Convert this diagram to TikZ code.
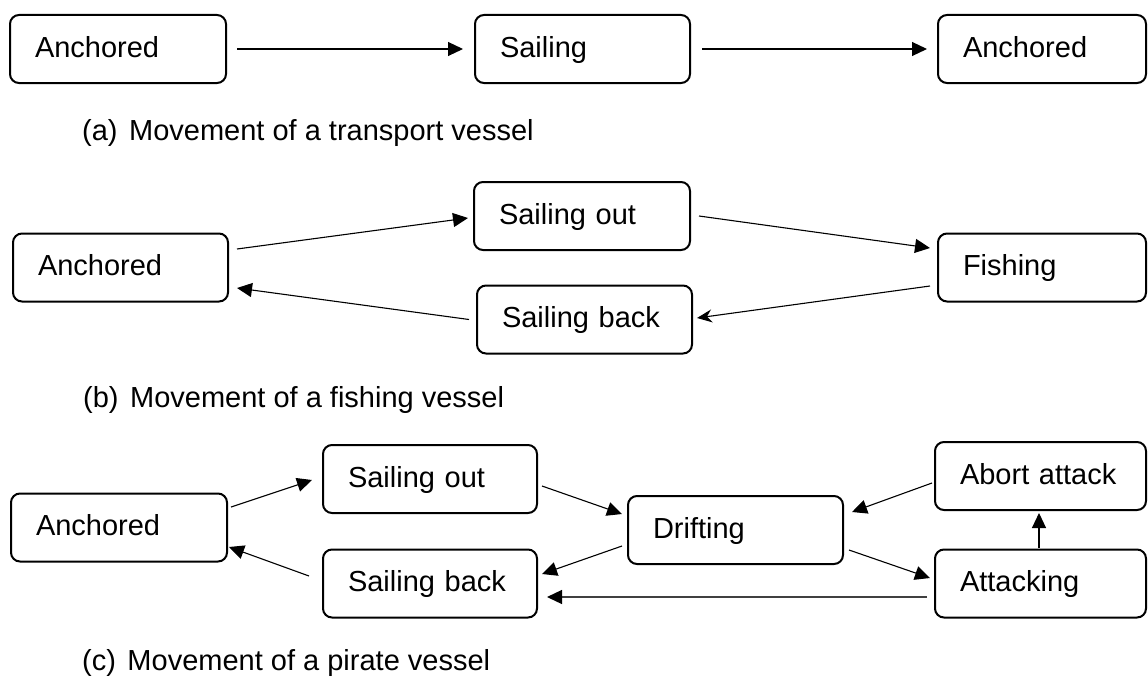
\documentclass[tikz,border=0pt]{standalone}
\usepackage{fontspec}
\setmainfont{Liberation Sans}
\usetikzlibrary{arrows.meta,calc}

\begin{document}
\begin{tikzpicture}[x=1pt,y=-1pt,
  state/.style={draw, line width=2pt, rounded corners=9pt, minimum height=68pt,
    inner xsep=25pt, inner ysep=0pt, outer sep=0pt, align=left,
    text height=16.6pt, text depth=0pt, font=\fontsize{29}{34}\selectfont},
  edge/.style={line width=1.1pt, -{Triangle[length=15pt,width=14pt]}},
  edgeback/.style={line width=1.1pt, -{Stealth[length=15pt,width=13pt,inset=5pt]}},
  edgelong/.style={line width=1.3pt, black!75, -{Triangle[length=15pt,width=14pt,color=black,fill=black]}},
  caption/.style={anchor=base west, inner sep=0pt, font=\fontsize{29}{34}\selectfont}]

\useasboundingbox (0,0) rectangle (1148,677);

% (a) transport vessel
\node[state, text width=166pt] (a1) at (118,49)   {Anchored};
\node[state, text width=165pt] (a2) at (582.5,49) {Sailing};
\node[state, text width=158pt] (a3) at (1042,49)  {Anchored};
\draw[edge] ($(a1.east)+(11,0)$) -- ($(a2.west)+(-12,0)$);
\draw[edge] ($(a2.east)+(12,0)$) -- ($(a3.west)+(-11,0)$);
\node[caption] (capa) at (82,140) {(a)\hspace{11.5pt}Movement of a transport vessel};

% (b) fishing vessel
\node[state, text width=165pt] (b1) at (120.5,267.5) {Anchored};
\node[state, text width=166pt] (b2) at (582,216)     {Sailing out};
\node[state, text width=165pt] (b3) at (584.5,319.5) {Sailing back};
\node[state, text width=158pt] (b4) at (1042,267.5)  {Fishing};
\draw[edge] ($(b1.east)+(9,-18.5)$) -- ($(b2.west)+(-6,2)$);
\draw[edge] ($(b2.east)+(9,0)$) -- ($(b4.west)+(-8,-19.5)$);
\draw[edgeback] ($(b4.west)+(-8,18.5)$) -- ($(b3.east)+(5,-1.5)$);
\draw[edge] ($(b3.west)+(-8,0)$) -- ($(b1.east)+(9,20.5)$);
\node[caption] (capb) at (83,407) {(b)\hspace{11.5pt}Movement of a fishing vessel};

% (c) pirate vessel
\node[state, text width=166pt] (c1) at (119,527.5)    {Anchored};
\node[state, text width=164pt] (c2) at (430,479)      {Sailing out};
\node[state, text width=164pt] (c3) at (430,583.5)    {Sailing back};
\node[state, text width=165pt] (c4) at (735.5,530)    {Drifting};
\node[state, text width=161pt] (c5) at (1040.5,476)   {Abort attack};
\node[state, text width=161pt] (c6) at (1040.5,583.5) {Attacking};
\draw[edge] ($(c1.east)+(4,-20.5)$) -- ($(c2.west)+(-11,1)$);
\draw[edge] ($(c3.west)+(-14,-7.5)$) -- ($(c1.east)+(2,19.5)$);
\draw[edge] ($(c2.east)+(5,7)$) -- ($(c4.west)+(-6,-16)$);
\draw[edge] ($(c4.west)+(-6,16)$) -- ($(c3.east)+(5,-9.5)$);
\draw[edge] ($(c5.west)+(-3,7)$) -- ($(c4.east)+(9,-18)$);
\draw[edge] ($(c4.east)+(6,20)$) -- ($(c6.west)+(-5,-5.5)$);
\draw[edgelong] ($(c6.west)+(-8,13.5)$) -- ($(c3.east)+(10,13.5)$);
\draw[edge] ($(c6.north)+(-1.5,-2)$) -- ($(c5.south)+(-1.5,3)$);
\node[caption] (capc) at (82,670) {(c)\hspace{11.5pt}Movement of a pirate vessel};
\end{tikzpicture}
\end{document}
